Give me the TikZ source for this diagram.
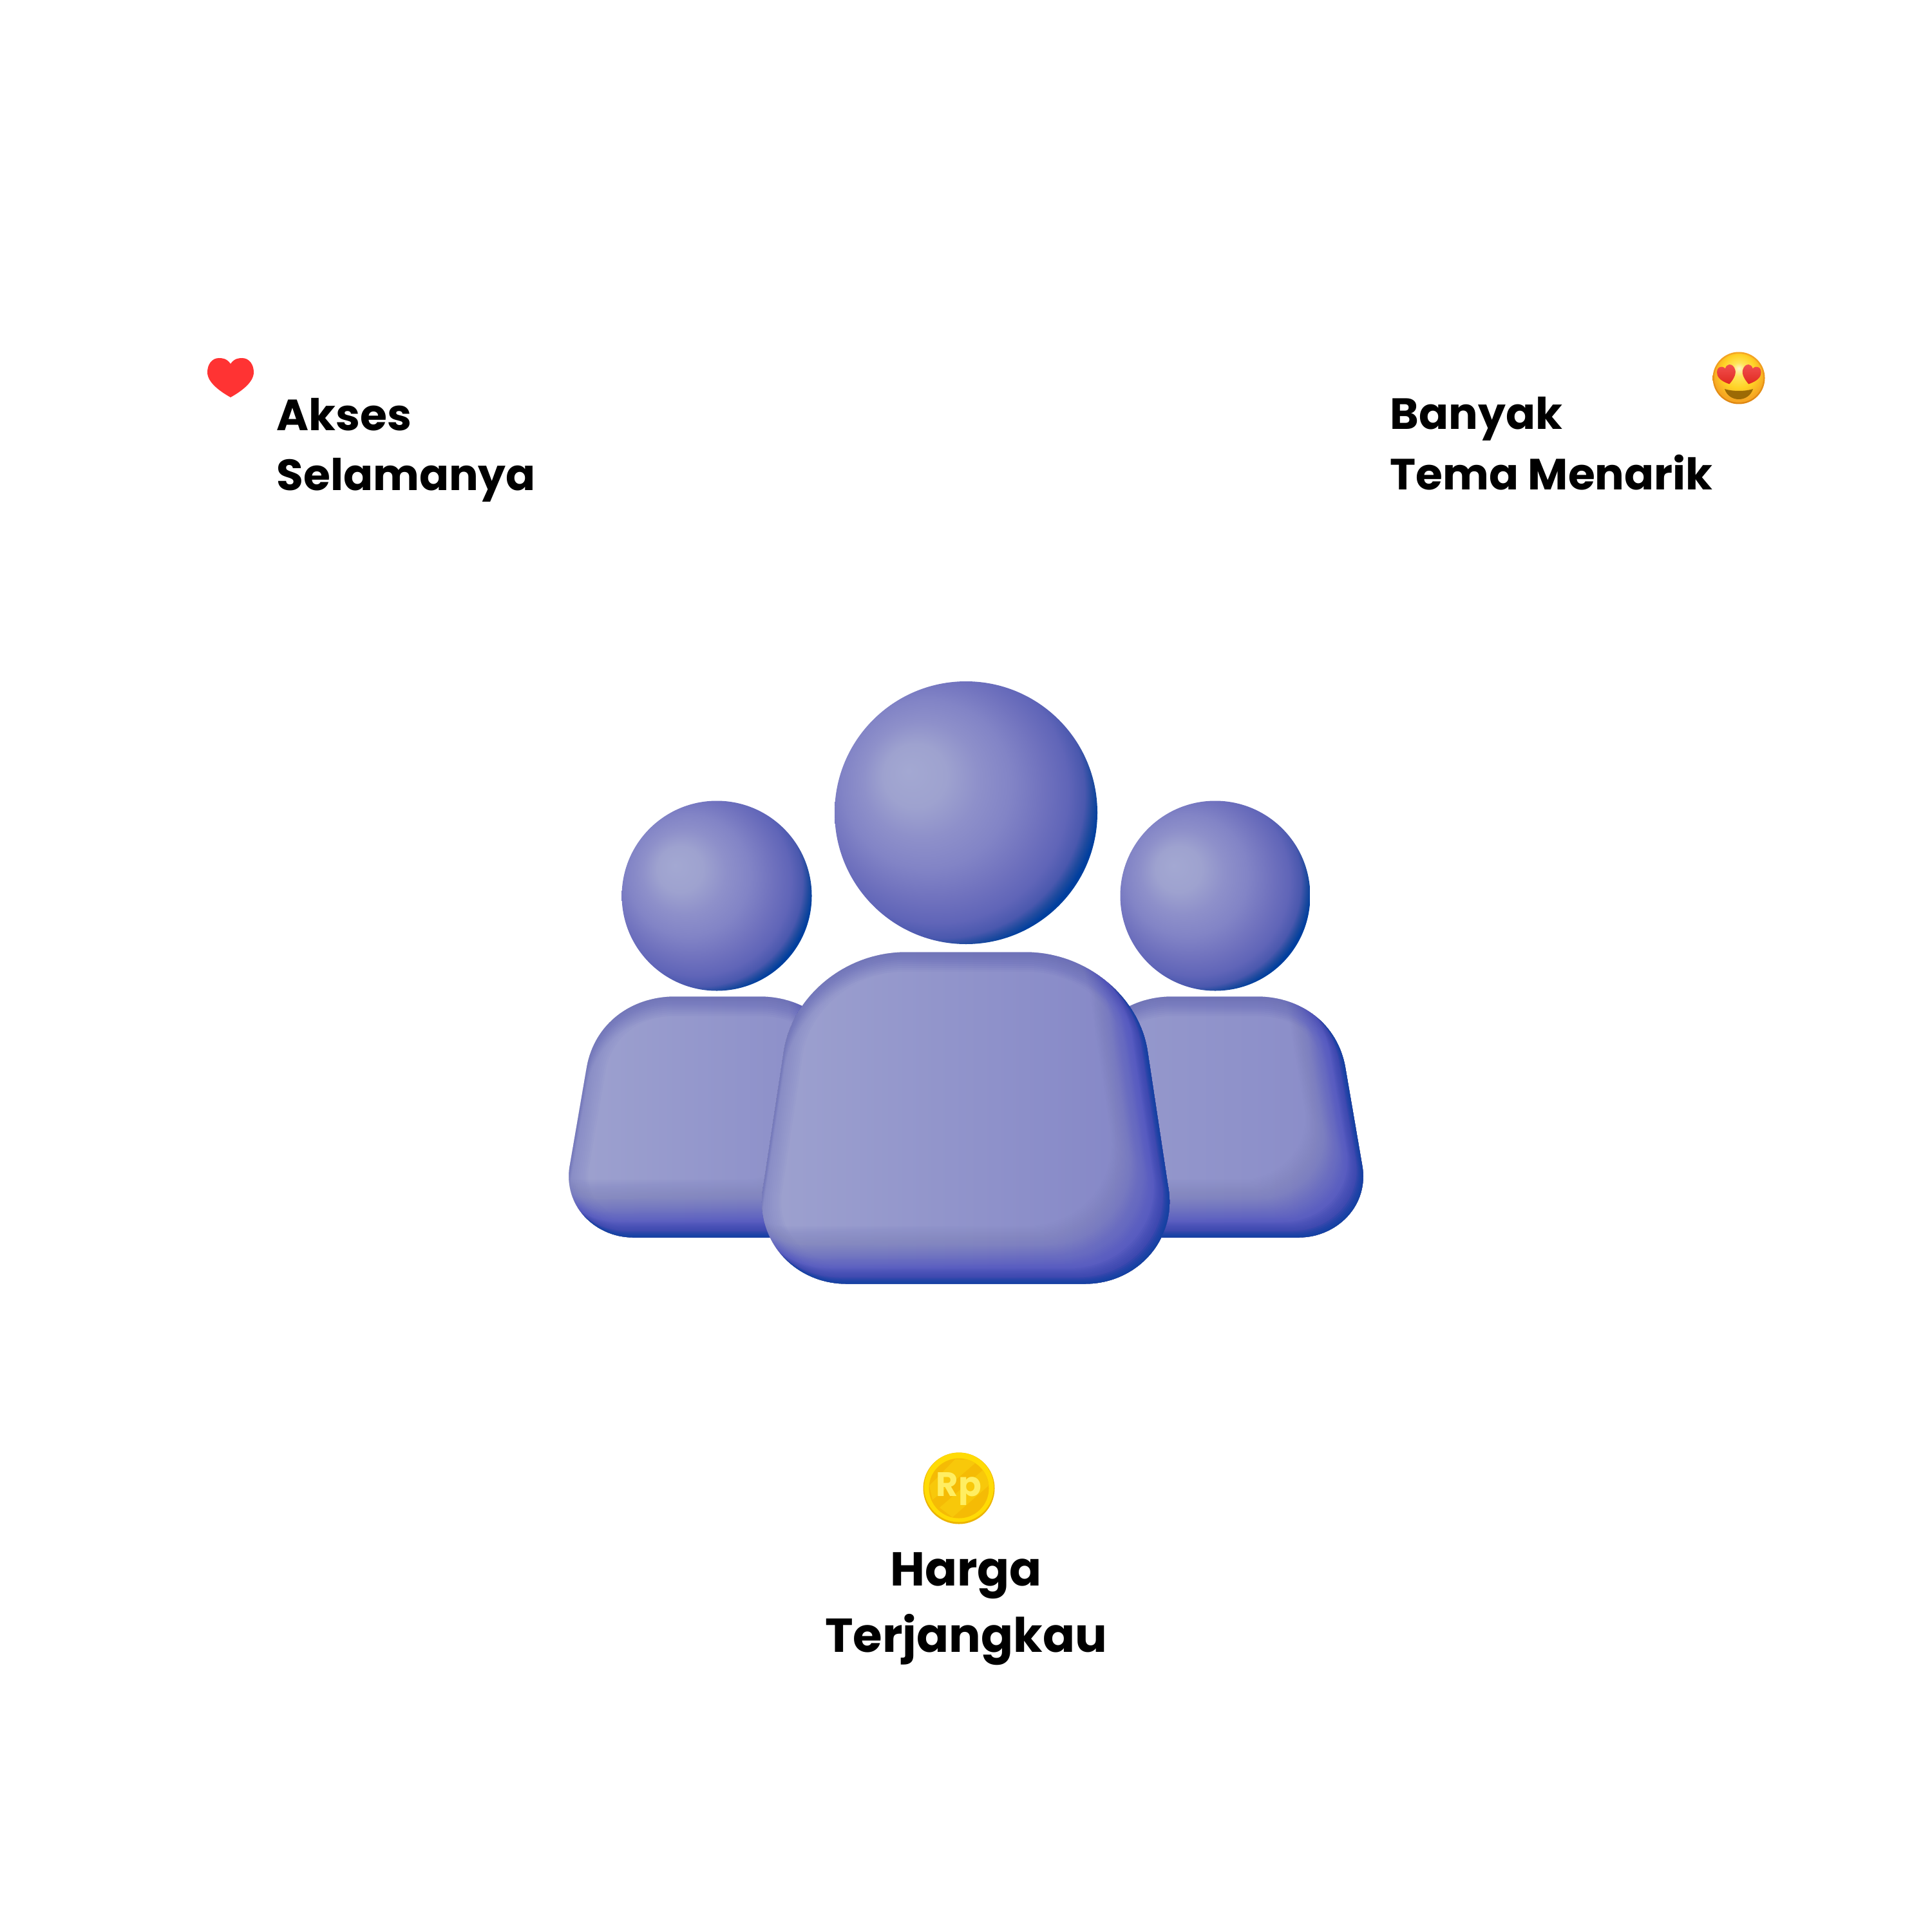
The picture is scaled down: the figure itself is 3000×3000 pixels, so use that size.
\documentclass[tikz,border=0pt]{standalone}
\usepackage{fontspec}
\setmainfont{Poppins}
\usetikzlibrary{positioning}

\definecolor{rimblue}{HTML}{003F9E}
\definecolor{rimdeep}{HTML}{3040A8}
\definecolor{rimsoft}{HTML}{5054C0}
\definecolor{rimpurple}{HTML}{5F63B8}
\definecolor{heartred}{HTML}{FF3333}
\definecolor{eyetop}{HTML}{F25050}
\definecolor{eyelow}{HTML}{E02A20}
\definecolor{mouthbrown}{HTML}{9C6A05}
\definecolor{coinrim}{HTML}{FFDB05}
\definecolor{coinlow}{HTML}{ECB400}
\definecolor{coindark}{HTML}{F5BB05}
\definecolor{coinlight}{HTML}{F8C80A}
\definecolor{coinletter}{HTML}{FFEE62}

\definecolor{h0}{HTML}{A3A8D2}
\definecolor{h1}{HTML}{9EA2CF}
\definecolor{h2}{HTML}{8284C6}
\definecolor{h3}{HTML}{7072BE}
\definecolor{h4}{HTML}{6065B8}
\definecolor{h5}{HTML}{4A58AE}
\definecolor{h6}{HTML}{003F9E}
\definecolor{h7}{HTML}{1E4A9E}
\definecolor{h8}{HTML}{8E90CA}
\pgfdeclareradialshading{headshade}{\pgfpoint{-11bp}{8bp}}{
	color(0bp)=(h0); color(6bp)=(h1); color(11bp)=(h8); color(16bp)=(h2); color(21bp)=(h3);
	color(25bp)=(h4); color(27.5bp)=(h5); color(28.8bp)=(h7); color(29.8bp)=(h6); color(50bp)=(h6)
}
\definecolor{f0}{HTML}{FFF4C8}
\definecolor{f1}{HTML}{FFE45A}
\definecolor{f2}{HTML}{FFD225}
\definecolor{f3}{HTML}{F6A623}
\definecolor{f4}{HTML}{DE8612}
\pgfdeclareradialshading{faceshade}{\pgfpoint{0bp}{10bp}}{
	color(0bp)=(f0); color(7bp)=(f1); color(17bp)=(f2); color(27bp)=(f3); color(50bp)=(f3)
}

\tikzset{
	labeltext/.style={inner sep=0pt,anchor=base west,font=\fontsize{19.3}{19.3}\selectfont\bfseries},
	bigtext/.style={inner sep=0pt,anchor=base,font=\fontsize{21}{21}\selectfont\bfseries},
}

% body outlines, in pixels of the page
\newcommand{\sidebody}{(1048,1550) -- (1180,1550) .. controls (1248,1550) and (1305,1592) .. (1317,1660)
	-- (1343,1811) .. controls (1355,1875) and (1303,1924) .. (1245,1924) -- (983,1924)
	.. controls (925,1924) and (873,1875) .. (885,1811) -- (911,1660)
	.. controls (923,1592) and (980,1550) .. (1048,1550) -- cycle}
\newcommand{\mainbody}{(1409,1481) -- (1595,1481) .. controls (1690,1481) and (1770,1550) .. (1784,1632)
	-- (1816,1843) .. controls (1832,1925) and (1770,1996) .. (1687,1996) -- (1317,1996)
	.. controls (1234,1996) and (1172,1925) .. (1188,1843) -- (1220,1632)
	.. controls (1234,1550) and (1314,1481) .. (1409,1481) -- cycle}
\newcommand{\heartline}{(0,-21) .. controls (6,-30) and (14,-30) .. (18,-30)
	.. controls (29,-30) and (36,-20) .. (36,-8) .. controls (36,8) and (16,22) .. (0,31)
	.. controls (-16,22) and (-36,8) .. (-36,-8) .. controls (-36,-20) and (-29,-30) .. (-18,-30)
	.. controls (-14,-30) and (-6,-30) .. (0,-21) -- cycle}
\newcommand{\rimlayer}[3]{
	\foreach \d in {#1}
		\fill[#3,opacity=#2,even odd rule] (-100,-100) rectangle (3100,3100)
			{[shift={(-\d,-\d)}] \thebody};
}
\newcommand{\bevelled}[1]{
	\def\thebody{#1}
	\begin{scope}
		\clip #1;
		\foreach \d in {3,6,...,30} {
			\draw[rimpurple,opacity=.035,line width=2*\d*0.1mm] #1;
			\fill[rimpurple,opacity=.04,even odd rule] (-100,-100) rectangle (3100,3100)
				{[shift={(0,\d)}] #1};
		}
		\rimlayer{62,64,...,90}{.015}{rimsoft}
		\rimlayer{42,44,...,60}{.04}{rimsoft}
		\rimlayer{26,28,...,40}{.08}{rimsoft}
		\rimlayer{12,14,...,24}{.11}{rimdeep}
		\rimlayer{2,4,...,10}{.18}{rimblue}
	\end{scope}
}

\begin{document}
\begin{tikzpicture}[x=0.1mm,y=-0.1mm]
	\useasboundingbox (0,0) rectangle (3000,3000);
	\fill[white] (0,0) rectangle (3000,3000);

	% side people, then the one in front
	\begin{scope}[shift={(0,-2.5)}]
		\shade[left color=h1,middle color=h1!55!h2,right color=h2!80!h1] \sidebody;
		\bevelled{\sidebody}
	\end{scope}
	\begin{scope}[shift={(772,-2.5)}]
		\shade[left color=h1!80!h2,middle color=h1!50!h2,right color=h2!80!h1] \sidebody;
		\bevelled{\sidebody}
	\end{scope}
	\begin{scope}[shift={(-2.5,-2.5)}]
		\shade[left color=h1,middle color=h1!50!h2,right color=h2] \mainbody;
		\bevelled{\mainbody}
	\end{scope}
	\shade[shading=headshade] (1113,1391) circle (147.5);
	\shade[shading=headshade] (1887,1391) circle (147.5);
	\shade[shading=headshade] (1500,1262) circle (204);

	% heart
	\fill[heartred,shift={(358,586)}] \heartline;

	% emoji
	\begin{scope}[shift={(2700,587)}]
		\shade[top color=f3,bottom color=f4] (0,0) circle (40.5);
		\shade[shading=faceshade] (0,0) circle (38);
		\shade[top color=eyetop,bottom color=eyelow,shift={(-18.5,-5)},rotate=15,x=0.04mm,y=-0.048mm] \heartline;
		\shade[top color=eyetop,bottom color=eyelow,shift={(19,-5)},rotate=-15,x=0.04mm,y=-0.048mm] \heartline;
		\fill[mouthbrown] (-22,17) .. controls (-10,21) and (10,21) .. (22,17)
			.. controls (19,27) and (10,33) .. (0,33) .. controls (-10,33) and (-19,27) .. (-22,17) -- cycle;
	\end{scope}

	% coin
	\begin{scope}[shift={(1489,2311)}]
		\fill[coinlow] (0,0) circle (55.5);
		\fill[coinrim] (0,-1.5) circle (54);
		\fill[coindark] (0,0) circle (46.5);
		\clip (0,0) circle (46.5);
		\fill[coinlight] (-46,-4) -- (-6,-45) -- (31,-44) -- (-41,18) -- cycle;
		\fill[coinlight] (-30,30) -- (45,-35) -- (47,-5) -- (-10,45) -- cycle;
	\end{scope}
	\node[inner sep=0pt,text=coinletter,anchor=base,font=\fontsize{15}{15}\selectfont\bfseries] (rp) at (1489,2323) {Rp};

	\node[labeltext] (akses) at (429,668) {Akses};
	\node[labeltext] (selamanya) at (429,761) {Selamanya};
	\node[labeltext] (banyak) at (2158,666) {Banyak};
	\node[labeltext] (tema) at (2158,760) {Tema Menarik};
	\node[bigtext] (harga) at (1500,2462) {Harga};
	\node[bigtext] (terjangkau) at (1500,2565) {Terjangkau};
\end{tikzpicture}
\end{document}
